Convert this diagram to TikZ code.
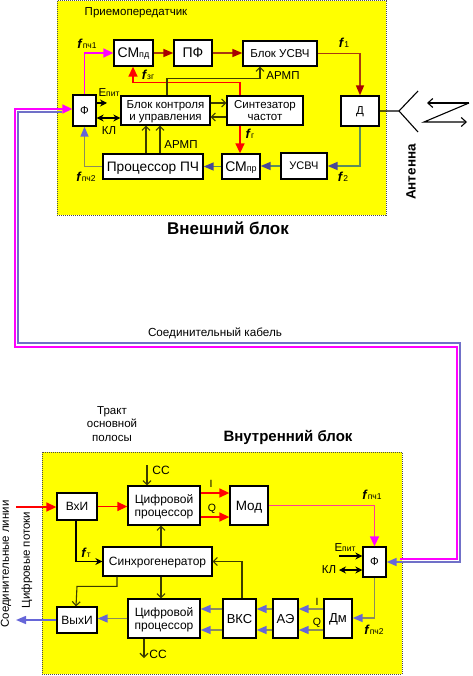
\documentclass[tikz,border=0pt]{standalone}
\usepackage{fontspec}
\setmainfont{Liberation Sans}
\usetikzlibrary{arrows.meta,positioning,calc}
\definecolor{blockf}{HTML}{FFFF00}
\definecolor{magl}{HTML}{FF00FF}
\definecolor{pinkl}{HTML}{FF3C96}
\definecolor{redl}{HTML}{FF0000}
\definecolor{darkr}{HTML}{A80000}
\definecolor{brownl}{HTML}{A83A10}
\definecolor{bluet}{HTML}{6666D8}
\definecolor{khaki}{HTML}{8C8C5C}
\definecolor{greenl}{HTML}{5C8C5C}
\definecolor{cablb}{HTML}{7070C8}
\definecolor{ctrl}{HTML}{3C3C00}
\newcommand{\fsub}[1]{\textbf{\textit{\fontsize{13}{13}\selectfont f}}{\fontsize{8.5}{8.5}\selectfont #1}}

\begin{document}
\begin{tikzpicture}[x=1pt,y=-1pt,
  font=\fontsize{11.5}{12.5}\selectfont,
  outer/.style={draw=black!70,fill=blockf,densely dotted,line width=1pt},
  box/.style={draw=black,fill=white,line width=1.3pt,align=center,inner sep=0pt,text depth=0pt},
  lbl/.style={inner sep=0pt,align=center},
  magarr/.style={-{Triangle[length=10pt,width=9pt,color=magl]},magl,line width=1.5pt},
  pinkarr/.style={-{Triangle[length=10pt,width=9pt,color=magl]},pinkl,line width=1.5pt},
  redarr/.style={-{Triangle[length=10pt,width=9pt,color=redl]},redl,line width=1.5pt},
  drarr/.style={-{Triangle[length=10pt,width=8pt,color=darkr]},brownl,line width=1.5pt},
  bluearr/.style={-{Triangle[length=10pt,width=8pt,color=bluet]},khaki,line width=1.5pt},
  greenarr/.style={-{Triangle[length=10pt,width=8pt,color=bluet!70!black]},greenl,line width=1.5pt},
  ctrlarr/.style={-{Straight Barb[length=4pt,width=8pt]},ctrl,line width=1.1pt},
  blk/.style={-{Stealth[length=7pt,width=7pt]},black,line width=1.1pt},
  blk2/.style={{Stealth[length=7pt,width=7pt]}-{Stealth[length=7pt,width=7pt]},black,line width=1.1pt}]
\useasboundingbox (0,0) rectangle (472,676);
% yellow blocks
\path[outer] (57,1) rectangle (386,215);
\path[outer] (42,452) rectangle (402,674);
\node[lbl] (tit1) at (136,13) {Приемопередатчик};
\node[lbl,font=\fontsize{17}{18}\selectfont\bfseries] (tit2) at (228,228) {Внешний блок};
\node[lbl,font=\fontsize{15}{16}\selectfont\bfseries] (tit3) at (288,437) {Внутренний блок};
\node[lbl,font=\fontsize{11.5}{13.3}\selectfont] (tract) at (112,424) {Тракт\\основной\\полосы};
\node[lbl,font=\fontsize{11.7}{12}\selectfont] (cabl) at (215,333) {Соединительный кабель};
% outer block, upper row
\node[box,minimum width=39pt,minimum height=26pt,font=\fontsize{14}{15}\selectfont] (smpd) at (133.5,53) {СМ{\fontsize{9}{9}\selectfont пд}};
\node[box,minimum width=38pt,minimum height=26pt,font=\fontsize{14}{15}\selectfont] (pf) at (193,53) {ПФ};
\node[box,minimum width=74pt,minimum height=25pt] (busv) at (280,53.5) {Блок УСВЧ};
\node[box,minimum width=23pt,minimum height=31pt] (fo) at (84.5,110.5) {Ф};
\node[box,minimum width=89pt,minimum height=29pt] (bku) at (165.5,110.5) {Блок контроля\\и управления};
\node[box,minimum width=76pt,minimum height=29pt] (synt) at (265,110.5) {Синтезатор\\частот};
\node[box,minimum width=38pt,minimum height=30pt] (dt) at (360,111) {Д};
\node[box,minimum width=100pt,minimum height=25pt,font=\fontsize{13.7}{15}\selectfont] (ppc) at (153,166.5) {Процессор ПЧ};
\node[box,minimum width=38pt,minimum height=25pt,font=\fontsize{14}{15}\selectfont] (smpr) at (241,166.5) {СМ{\fontsize{9}{9}\selectfont пр}};
\node[box,minimum width=46pt,minimum height=26pt,font=\fontsize{11}{12}\selectfont] (usv) at (304,166) {УСВЧ};
% antenna
\coordinate (ant) at (399,111);
\coordinate (ant1) at (418,91);
\coordinate (ant2) at (418,132);
\draw[black,line width=1.1pt] (dt.east) -- (ant) (ant1) -- (ant) -- (ant2);
\coordinate (zz0) at (427,103);
\coordinate (zz1) at (469,103);
\coordinate (zz2) at (424,122);
\coordinate (zz3) at (467,122);
\draw[-{Straight Barb[length=5pt,width=9pt]},black,line width=1.1pt] (zz1) -- (zz0);
\draw[-{Straight Barb[length=5pt,width=9pt]},black,line width=1.1pt] (zz1) -- (zz2) -- (zz3);
\node[lbl,rotate=90,font=\fontsize{13.5}{14}\selectfont\bfseries] (anttxt) at (411,172) {Антенна};
% outer block, signal path
\draw[magarr] (fo.north) |- (smpd.west);
\draw[drarr] (smpd.east) -- (pf.west);
\draw[drarr] (pf.east) -- (pf.east -| busv.west);
\draw[drarr] (busv.east) -| (dt.north);
\draw[greenarr] (dt.south) |- (usv.east);
\draw[greenarr] (usv.west) -- (usv.west -| smpr.east);
\draw[greenarr] (smpr.west) -- (ppc.east);
\draw[bluearr] (ppc.west) -| (fo.south);
\draw[redarr] (synt.south) ++(-25,0) coordinate (sr) -- (sr |- smpr.north);
\draw[redarr] (sr |- synt.north) -- ++(0,-13) -| ($(smpd.south)+(-0.5,0)$);
\draw[ctrlarr] ($(bku.north)+(1.5,0)$) -- ++(0,-17) -| ($(busv.south)+(-20,0)$);
\draw[ctrlarr] ($(bku.east)+(0,-7.5)$) -- ($(synt.west)+(0,-7.5)$);
\draw[ctrlarr] ($(synt.west)+(0,6.5)$) -- ($(bku.east)+(0,6.5)$);
\draw[ctrlarr] ($(ppc.north)+(-7,0)$) -- ($(bku.south)+(-19.5,0)$);
\draw[ctrlarr] ($(ppc.north)+(7,0)$) -- ($(bku.south)+(-5.5,0)$);
\coordinate (epo) at (107,103);
\draw[blk] (fo.east |- epo) -- (epo);
\draw[blk2] ($(fo.east)+(0,7.5)$) -- ($(bku.west)+(0,7.5)$);
% outer block, labels
\node[lbl] (ep1) at (109,93) {E{\fontsize{8.5}{8.5}\selectfont пит}};
\node[lbl] (kl1) at (109,131) {КЛ};
\node[lbl] (ar1) at (283,76) {АРМП};
\node[lbl] (ar2) at (181,145) {АРМП};
\node[lbl] (fp1) at (87,44) {\fsub{пч1}};
\node[lbl] (fp2) at (86,177) {\fsub{пч2}};
\node[lbl] (f3g) at (148,75) {\fsub{зг}};
\node[lbl] (fg) at (250,134) {\fsub{г}};
\node[lbl] (f1) at (344,43) {\fsub{1}};
\node[lbl] (f2) at (343,177) {\fsub{2}};
% inner block
\node[box,minimum width=40pt,minimum height=27pt,font=\fontsize{12}{13}\selectfont] (vhi) at (77,506.5) {ВхИ};
\node[box,minimum width=72pt,minimum height=39pt,font=\fontsize{12}{13.5}\selectfont] (cp1) at (164,505.5) {Цифровой\\процессор};
\node[box,minimum width=38pt,minimum height=39pt,font=\fontsize{13.5}{14}\selectfont] (mod) at (249,505.5) {Мод};
\node[box,minimum width=109pt,minimum height=29pt,font=\fontsize{12}{13}\selectfont] (sync) at (157.5,561.5) {Синхрогенератор};
\node[box,minimum width=40pt,minimum height=26pt,font=\fontsize{12}{13}\selectfont] (vyh) at (77,620) {ВыхИ};
\node[box,minimum width=72pt,minimum height=39pt,font=\fontsize{12}{13.5}\selectfont] (cp2) at (164,618.5) {Цифровой\\процессор};
\node[box,minimum width=33pt,minimum height=39pt,font=\fontsize{13}{14}\selectfont] (vks) at (239.5,618.5) {ВКС};
\node[box,minimum width=25pt,minimum height=39pt,font=\fontsize{13}{14}\selectfont] (ae) at (285.5,618.5) {АЭ};
\node[box,minimum width=28pt,minimum height=39pt,font=\fontsize{13}{14}\selectfont] (dm) at (338,618.5) {Дм};
\node[box,minimum width=23pt,minimum height=30pt] (fi) at (374.5,562) {Ф};
% inner block, connectors
\coordinate (inl) at (16,507);
\coordinate (outl) at (16,620);
\draw[redarr] (inl) -- (vhi.west |- inl);
\draw[redarr] (vhi.east) -- (vhi.east -| cp1.west);
\draw[redarr] ($(cp1.east)+(0,-12.5)$) -- ($(mod.west)+(0,-12.5)$);
\draw[redarr] ($(cp1.east)+(0,11.5)$) -- ($(mod.west)+(0,11.5)$);
\draw[pinkarr] (mod.east) -| (fi.north);
\draw[bluearr] (fi.south) |- ($(dm.east)+(0,-0.5)$);
\foreach \yo in {-9.5,11.5} {
  \draw[bluearr] ($(dm.west)+(0,\yo)$) -- ($(ae.east)+(0,\yo)$);
  \draw[bluearr] ($(ae.west)+(0,\yo)$) -- ($(vks.east)+(0,\yo)$);
  \draw[bluearr] ($(vks.west)+(0,\yo)$) -- ($(cp2.east)+(0,\yo)$);
}
\draw[bluearr] (cp2.west) -- (cp2.west -| vyh.east);
\draw[-{Triangle[length=10pt,width=8pt,color=bluet]},bluet,line width=1.5pt] (vyh.west) -- (outl);
\draw[ctrlarr] ($(sync.north)+(3.5,0)$) -- ($(cp1.south)+(-3,0)$);
\draw[ctrlarr] ($(sync.south)+(3.5,0)$) -- ($(cp2.north)+(-3,0)$);
\draw[ctrlarr] (vks.north) ++(2.5,0) |- (sync.east);
\draw[ctrlarr] ($(sync.south)+(-40.5,0)$) |- ($(vyh.north)+(0,-20)$) -- ($(vyh.north)+(-1,0)$);
\draw[blk] (vhi.south) ++(-1,0) |- (sync.west);
\coordinate (cc1) at (147,465);
\coordinate (cc2) at (144,658);
\draw[ctrlarr] (cc1) -- (cc1 |- cp1.north);
\draw[ctrlarr] (cc2 |- cp2.south) -- (cc2);
\coordinate (en) at (339,556);
\draw[blk] (en) -- (en -| fi.west);
\coordinate (kn) at (339,570);
\draw[blk2] (kn) -- (kn -| fi.west);
% inner block, labels
\node[lbl,font=\fontsize{12}{13}\selectfont] (cct1) at (161,470) {СС};
\node[lbl,font=\fontsize{12}{13}\selectfont] (cct2) at (158,654) {СС};
\node[lbl,font=\fontsize{10.5}{11}\selectfont] (itx) at (211,484) {I};
\node[lbl,font=\fontsize{10.5}{11}\selectfont] (qtx) at (212,509) {Q};
\node[lbl,font=\fontsize{10.5}{11}\selectfont] (itx2) at (317,602) {I};
\node[lbl,font=\fontsize{10.5}{11}\selectfont] (qtx2) at (317,623) {Q};
\node[lbl] (ft) at (86,553) {\fsub{т}};
\node[lbl] (fp3) at (372,495) {\fsub{пч1}};
\node[lbl] (fp4) at (374,630) {\fsub{пч2}};
\node[lbl] (ep2) at (345,548) {E{\fontsize{8.5}{8.5}\selectfont пит}};
\node[lbl] (kl2) at (329,570) {КЛ};
\node[lbl,rotate=90,font=\fontsize{11.5}{12}\selectfont] (sl) at (6,564) {Соединительные линии};
\node[lbl,rotate=90,font=\fontsize{11.5}{12}\selectfont] (cpt) at (27,560) {Цифровые потоки};
% cable
\coordinate (cm1) at (15,109);
\coordinate (cm2) at (15,347);
\coordinate (cm3) at (457,347);
\coordinate (cb0) at (62,112);
\coordinate (cb1) at (18,112);
\coordinate (cb2) at (18,343);
\coordinate (cb3) at (460,343);
\coordinate (cm4) at (400,559);
\draw[-{Triangle[length=10pt,width=8pt,color=bluet]},cablb,line width=1.5pt] (cb0) -- (cb1) -- (cb2) -- (cb3) |- (fi.east);
\draw[magarr] (cm4) -| (cm3) -- (cm2) -- (cm1) -- (cm1 -| fo.west);
\end{tikzpicture}
\end{document}
